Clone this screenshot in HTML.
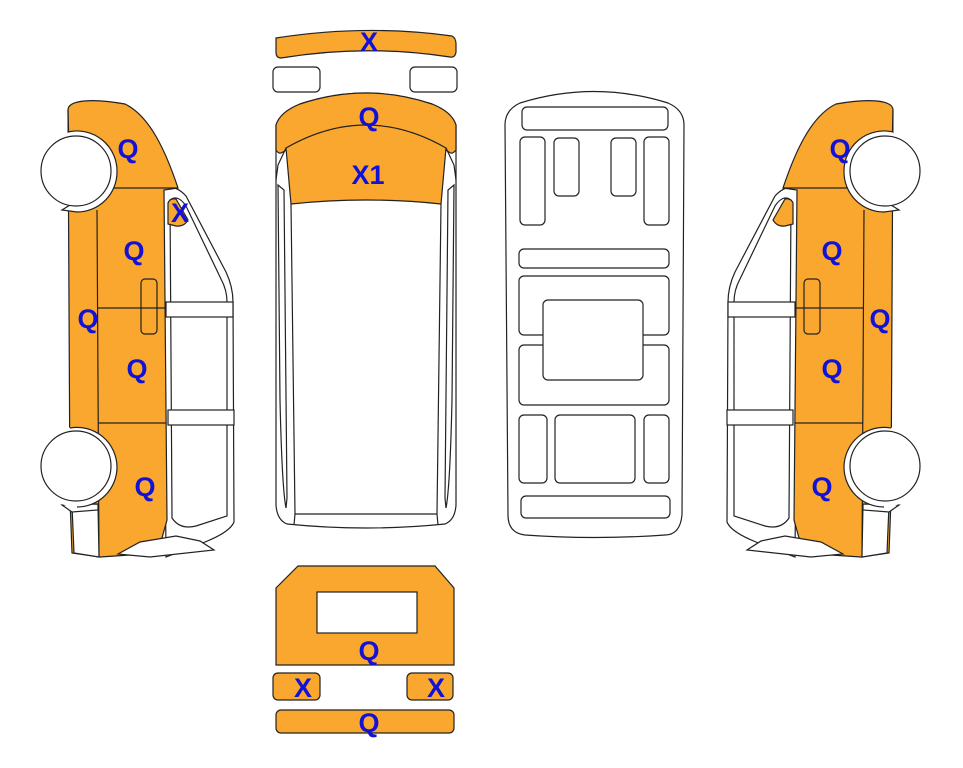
<!DOCTYPE html>
<html><head><style>
html,body{margin:0;padding:0;background:#fff;}
svg{display:block;}
text{font-family:"Liberation Sans",Arial,sans-serif;font-weight:bold;font-size:27px;fill:#1212d6;text-anchor:middle;}
</style></head><body>
<svg width="963" height="768" viewBox="0 0 963 768" xmlns="http://www.w3.org/2000/svg">
<defs>
<g id="side" stroke="#222" stroke-width="1.2">
  <!-- window frame -->
  <path d="M163,188 Q175,184 186,196 L226,272 Q233,287 233,302 L234,522 Q230,532 205,542 L166,557 Z" fill="#fff"/>
  <path d="M170,200 L172,518 Q180,530 196,526 L227,516 L227,302 Q227,290 221,279 L186,206 Q178,194 170,200 Z" fill="#fff"/>
  <rect x="166" y="302" width="67" height="15" fill="#fff"/>
  <rect x="168" y="410" width="66" height="15" fill="#fff"/>
  <!-- body -->
  <path d="M68,110 C68,100 92,98 125,104 C150,116 166,152 178,188 L164,190 L165,300 L167,520 L160,545 L130,555 L100,557 L72,553 L70,500 Z" fill="#F9A72F"/>
  <path d="M70,192 L68,110" fill="none"/>
  <line x1="68" y1="188" x2="178" y2="188"/>
  <line x1="97" y1="210" x2="99" y2="557"/>
  <line x1="97" y1="308" x2="165" y2="308"/>
  <line x1="98" y1="423" x2="166" y2="423"/>
  <rect x="141" y="279" width="16" height="55" rx="4" fill="none"/>
  <!-- small window X -->
  <path d="M168,203 Q170,198 176,199 L188,220 Q184,227 176,226 L168,224 Z" fill="#F9A72F"/>
  <!-- bottom trim -->
  <path d="M118,554 L140,542 L176,536 L200,541 L214,550 L150,557 Z" fill="#fff"/>
  <!-- bumper -->
  <path d="M72,505 L98,505 L99,557 L74,553 Z" fill="#fff"/>
  <path d="M62,505 L98,504 L98,510 L72,512 Z" fill="#fff"/>
  <!-- wheel arches -->
  <circle cx="77" cy="172" r="40" fill="#fff" stroke="none"/>
  <path d="M68,132 A40,40 0 0 1 117,172 A40,40 0 0 1 77,212 L62,210 L70,205" fill="#fff"/>
  <circle cx="76" cy="171" r="35" fill="#fff"/>
  <circle cx="77" cy="467" r="40" fill="#fff" stroke="none"/>
  <path d="M70,428 A40,40 0 0 1 117,467 A40,40 0 0 1 77,507" fill="#fff"/>
  <circle cx="76" cy="466" r="35" fill="#fff"/>
</g>
</defs>
<use href="#side"/>
<use href="#side" transform="translate(961,0) scale(-1,1)"/>

<g stroke="#222" stroke-width="1.2">
  <!-- top view -->
  <path d="M276,38 Q366,24 452,36 Q456,38 456,44 L456,52 Q455,58 450,57 Q366,44 281,58 Q276,58 276,52 Z" fill="#F9A72F"/>
  <rect x="273" y="67" width="47" height="25" rx="5" fill="#fff"/>
  <rect x="410" y="67" width="47" height="25" rx="5" fill="#fff"/>
  <path d="M276,125 Q280,112 300,104 Q366,82 432,104 Q452,112 456,125 L456,505 Q455,520 445,524 Q366,532 287,524 Q277,520 276,505 Z" fill="#fff"/>
  <path d="M276,125 Q280,112 300,104 Q366,82 432,104 Q452,112 456,125 L456,150 Q452,155 449,152 Q366,100 283,152 Q279,155 276,150 Z" fill="#F9A72F"/>
  <path d="M286,148 Q366,102 446,148 L441,204 Q366,196 291,204 Z" fill="#F9A72F"/>
  <path d="M276,180 L278,165 L286,148 M456,180 L454,165 L446,148" fill="none"/>
  <path d="M278,185 L284,190 L287,498 L286,508 Q282,488 280,400 Z" fill="none"/>
  <path d="M454,185 L448,190 L445,498 L446,508 Q450,488 452,400 Z" fill="none"/>
  <path d="M291,204 L295,514 L294,525 M441,204 L437,514 L438,525 M295,514 L437,514" fill="none"/>

  <!-- floor plan -->
  <path d="M505,125 Q505,110 520,103 Q594,80 668,103 Q684,110 684,125 L682,515 Q680,535 665,535 Q594,540 525,535 Q508,533 508,515 Z" fill="#fff"/>
  <rect x="522" y="107" width="146" height="23" rx="5" fill="none"/>
  <rect x="520" y="137" width="25" height="88" rx="5" fill="none"/>
  <rect x="554" y="138" width="25" height="58" rx="5" fill="none"/>
  <rect x="611" y="138" width="25" height="58" rx="5" fill="none"/>
  <rect x="644" y="137" width="25" height="88" rx="5" fill="none"/>
  <rect x="519" y="249" width="150" height="19" rx="5" fill="none"/>
  <rect x="519" y="276" width="150" height="59" rx="5" fill="none"/>
  <rect x="519" y="345" width="150" height="60" rx="5" fill="none"/>
  <rect x="543" y="300" width="100" height="80" rx="5" fill="#fff"/>
  <rect x="519" y="415" width="28" height="68" rx="5" fill="none"/>
  <rect x="555" y="415" width="80" height="68" rx="5" fill="none"/>
  <rect x="644" y="415" width="25" height="68" rx="5" fill="none"/>
  <rect x="521" y="496" width="149" height="22" rx="5" fill="none"/>

  <!-- rear -->
  <path d="M298,566 L435,566 L454,588 L454,665 L276,665 L276,588 Z" fill="#F9A72F"/>
  <rect x="317" y="592" width="100" height="41" fill="#fff"/>
  <rect x="273" y="673" width="47" height="27" rx="5" fill="#F9A72F"/>
  <rect x="407" y="673" width="46" height="27" rx="5" fill="#F9A72F"/>
  <rect x="276" y="710" width="178" height="23" rx="5" fill="#F9A72F"/>
</g>

<text x="369" y="51">X</text>
<text x="369" y="126">Q</text>
<text x="368" y="184">X1</text>
<text x="128" y="158">Q</text>
<text x="180" y="222">X</text>
<text x="134" y="260">Q</text>
<text x="88" y="328">Q</text>
<text x="137" y="378">Q</text>
<text x="145" y="496">Q</text>
<text x="840" y="158">Q</text>
<text x="832" y="260">Q</text>
<text x="880" y="328">Q</text>
<text x="832" y="378">Q</text>
<text x="822" y="496">Q</text>
<text x="369" y="660">Q</text>
<text x="303" y="697">X</text>
<text x="436" y="697">X</text>
<text x="369" y="732">Q</text>
</svg>
</body></html>
